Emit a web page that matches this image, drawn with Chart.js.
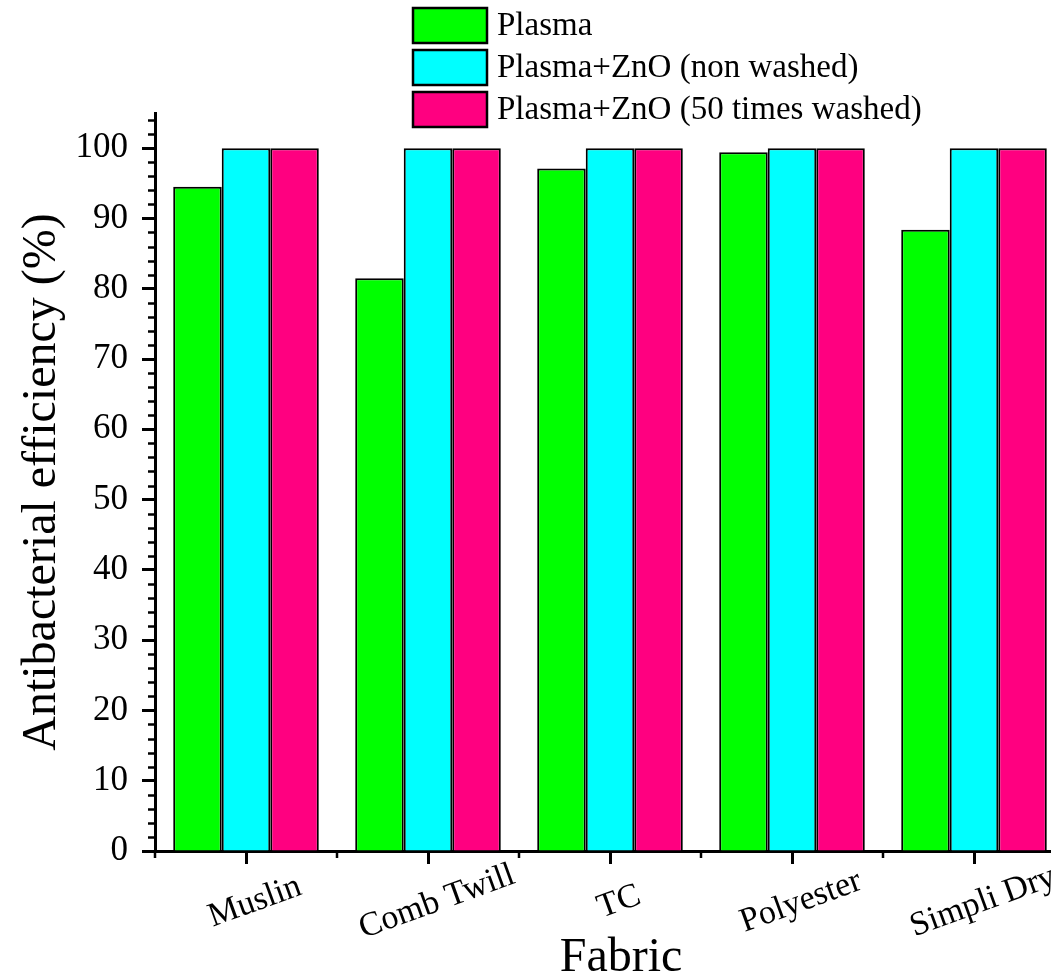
<!DOCTYPE html>
<html>
<head>
<meta charset="utf-8">
<script src="https://cdn.jsdelivr.net/npm/chart.js@4"></script>
<style>
  html, body { margin: 0; padding: 0; background: #fff; overflow: hidden; }
  canvas { display: block; }
</style>
</head>
<body>
<canvas id="chart" width="1070" height="976"></canvas>
<script>
const fabrics = ['Muslin', 'Comb Twill', 'TC', 'Polyester', 'Simpli Dry'];
const seriesNames = ['Plasma', 'Plasma+ZnO (non washed)', 'Plasma+ZnO (50 times washed)'];
const plasma = [94.5, 81.5, 97.1, 99.4, 88.4];
const plasmaZnO = [100, 100, 100, 100, 100];
const plasmaZnOWashed = [100, 100, 100, 100, 100];
const seriesColors = ['#00ff00', '#00ffff', '#ff0080'];
const yTickValues = [0, 10, 20, 30, 40, 50, 60, 70, 80, 90, 100];
const yMax = 105;
const xTitle = 'Fabric';
const yTitle = 'Antibacterial efficiency (%)';

const serif = "'Liberation Serif', 'Times New Roman', serif";

// minor ticks, rotated category labels, axis titles and the stacked legend
const extras = {
  id: 'extras',
  afterDraw(chart) {
    const ctx = chart.ctx;
    const x = chart.scales.x;
    const y = chart.scales.y;
    const area = chart.chartArea;
    ctx.save();
    ctx.strokeStyle = '#000';
    ctx.lineWidth = 2.5;
    // y minor ticks every 2
    for (let v = 0; v <= yMax; v += 2) {
      if (v % 10 === 0) continue;
      const py = Math.round(y.getPixelForValue(v)) + 0.5;
      ctx.beginPath();
      ctx.moveTo(area.left - 7, py);
      ctx.lineTo(area.left, py);
      ctx.stroke();
    }
    // x minor ticks between categories
    const w = (area.right - area.left) / fabrics.length;
    for (let k = 0; k <= fabrics.length; k++) {
      const px = Math.round(area.left + k * w);
      ctx.beginPath();
      ctx.moveTo(px, area.bottom);
      ctx.lineTo(px, area.bottom + 7);
      ctx.stroke();
    }
    // category labels
    ctx.fillStyle = '#000';
    ctx.font = '34px ' + serif;
    ctx.textAlign = 'center';
    ctx.textBaseline = 'middle';
    fabrics.forEach(function (name, i) {
      ctx.save();
      ctx.translate(x.getPixelForValue(i) + 9, 902);
      ctx.rotate(-20 * Math.PI / 180);
      ctx.fillText(name, 0, 0);
      ctx.restore();
    });
    // axis titles
    ctx.textBaseline = 'alphabetic';
    ctx.font = '48px ' + serif;
    ctx.fillText(xTitle, 621, 971);
    ctx.save();
    ctx.translate(55, (area.top + area.bottom) / 2);
    ctx.rotate(-Math.PI / 2);
    ctx.fillText(yTitle, 0, 0);
    ctx.restore();
    // legend
    ctx.textAlign = 'left';
    ctx.textBaseline = 'middle';
    ctx.font = '33px ' + serif;
    chart.data.datasets.forEach(function (ds, i) {
      const top = 8 + 42 * i;
      ctx.fillStyle = ds.backgroundColor;
      ctx.fillRect(413, top, 74, 35);
      ctx.lineWidth = 2.5;
      ctx.strokeRect(413, top, 74, 35);
      ctx.fillStyle = '#000';
      ctx.fillText(ds.label, 497, top + 18);
    });
    ctx.restore();
  }
};

new Chart(document.getElementById('chart'), {
  type: 'bar',
  data: {
    labels: fabrics,
    datasets: [
      { label: seriesNames[0], data: plasma, backgroundColor: seriesColors[0] },
      { label: seriesNames[1], data: plasmaZnO, backgroundColor: seriesColors[1] },
      { label: seriesNames[2], data: plasmaZnOWashed, backgroundColor: seriesColors[2] }
    ]
  },
  options: {
    responsive: false,
    animation: false,
    layout: { padding: { top: 113, right: 5, left: 0, bottom: 0 } },
    datasets: {
      bar: {
        categoryPercentage: 0.8,
        barPercentage: 1.0,
        borderColor: '#000',
        borderWidth: 2
      }
    },
    plugins: {
      legend: { display: false },
      tooltip: { enabled: false }
    },
    scales: {
      x: {
        offset: true,
        border: { display: true, color: '#000', width: 3 },
        grid: { offset: false, drawOnChartArea: false, drawTicks: true, tickLength: 13, tickWidth: 3, color: '#000' },
        ticks: { display: false },
        afterFit(scale) { scale.height = 125; }
      },
      y: {
        min: 0,
        max: yMax,
        border: { display: true, color: '#000', width: 3 },
        grid: { drawOnChartArea: false, drawTicks: true, tickLength: 13, tickWidth: 3, color: '#000' },
        ticks: {
          color: '#000',
          padding: 14,
          font: { family: serif, size: 35 }
        },
        afterBuildTicks(scale) {
          scale.ticks = yTickValues.map(v => ({ value: v }));
        },
        afterFit(scale) { scale.width = 155; }
      }
    }
  },
  plugins: [extras]
});
</script>
</body>
</html>
